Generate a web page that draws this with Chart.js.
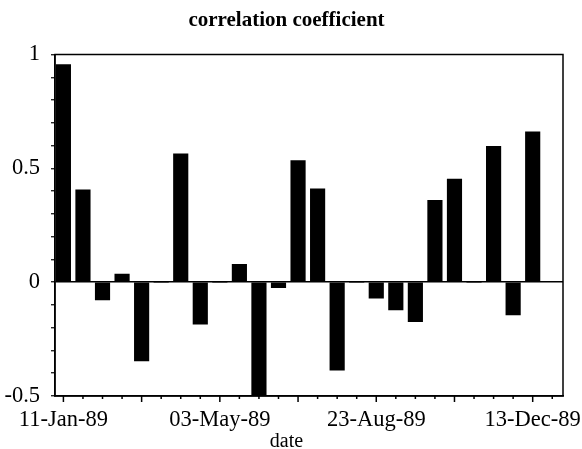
<!DOCTYPE html>
<html>
<head>
<meta charset="utf-8">
<script src="https://cdn.jsdelivr.net/npm/chart.js@4"></script>
<style>
  html, body { margin: 0; padding: 0; background: #fff; }
  #wrap { width: 582px; height: 449px; }
</style>
</head>
<body>
<div id="wrap"><canvas id="chart" width="582" height="449"></canvas></div>
<script>
// fortnightly dates, 1989
const dates = [
  "11-Jan-89", "25-Jan-89", "08-Feb-89", "22-Feb-89", "08-Mar-89", "22-Mar-89",
  "05-Apr-89", "19-Apr-89", "03-May-89", "17-May-89", "31-May-89", "14-Jun-89",
  "28-Jun-89", "12-Jul-89", "26-Jul-89", "09-Aug-89", "23-Aug-89", "06-Sep-89",
  "20-Sep-89", "04-Oct-89", "18-Oct-89", "01-Nov-89", "15-Nov-89", "29-Nov-89",
  "13-Dec-89"
];

// correlation coefficient per date
const coeffs = [
  0.956, 0.406, -0.078, 0.036, -0.346, 0, 0.564, -0.185, 0, 0.078, -0.5, -0.024,
  0.534, 0.41, -0.386, 0, -0.07, -0.122, -0.173, 0.359, 0.453, 0, 0.597, -0.144,
  0.66
];

// labelled x ticks
const tickLabels = ["11-Jan-89", "03-May-89", "23-Aug-89", "13-Dec-89"];
const yTickLabels = [1, 0.5, 0, -0.5];

const serif = "'Liberation Serif', 'DejaVu Serif', serif";

// box round the plot + small tick marks under the x axis
const frame = {
  id: "frame",
  afterDraw(chart) {
    const { ctx, chartArea: a, scales } = chart;
    ctx.save();
    ctx.strokeStyle = "#000";
    ctx.lineWidth = 1.5;
    ctx.strokeRect(a.left, a.top, a.right - a.left, a.bottom - a.top);
    ctx.beginPath();
    for (let i = 0; i <= dates.length; i++) {
      const x = scales.x.getPixelForValue(i);
      const len = i % 4 === 0 ? 6 : 3;
      ctx.moveTo(x, a.bottom);
      ctx.lineTo(x, a.bottom + len);
    }
    ctx.stroke();
    ctx.restore();
  }
};

new Chart(document.getElementById("chart"), {
  type: "bar",
  data: {
    datasets: [{
      data: coeffs.map((v, i) => ({ x: i, y: v })),
      backgroundColor: "#000",
      borderWidth: 0,
      barThickness: 14.5
    }]
  },
  options: {
    responsive: false,
    animation: false,
    layout: { padding: { left: 0, right: 9, top: 0, bottom: 0 } },
    plugins: {
      legend: { display: false },
      tooltip: { enabled: false },
      title: {
        display: true,
        text: "correlation coefficient",
        color: "#000",
        font: { family: serif, size: 21, weight: "bold", lineHeight: 1.2 },
        padding: { top: 7.5, bottom: 21.8 }
      },
      subtitle: {
        display: true,
        position: "bottom",
        text: "date",
        color: "#000",
        font: { family: serif, size: 20, weight: "normal", lineHeight: 0.7 },
        padding: { top: 0, bottom: 0 }
      }
    },
    scales: {
      x: {
        type: "linear",
        offset: false,
        min: -0.43,
        max: 25.55,
        afterBuildTicks: (scale) => {
          scale.ticks = tickLabels.map((l) => ({ value: dates.indexOf(l) }));
        },
        afterFit: (scale) => {
          scale.height = 39;
          scale.paddingLeft = 0;
          scale.paddingRight = 0;
        },
        grid: { display: false, drawTicks: false },
        border: { display: true, color: "#000", width: 1.5 },
        ticks: {
          autoSkip: false,
          maxRotation: 0,
          padding: 10.5,
          color: "#000",
          font: { family: serif, size: 22.5 },
          callback: (v) => dates[v]
        }
      },
      y: {
        min: -0.5,
        max: 1,
        afterFit: (scale) => { scale.width = 55; },
        grid: {
          drawOnChartArea: true,
          color: (c) => (c.tick && Math.abs(c.tick.value) < 1e-9 ? "#000" : "rgba(0,0,0,0)"),
          lineWidth: 1.5,
          tickColor: "#000",
          tickLength: 4,
          tickWidth: 1.2
        },
        border: { display: true, color: "#000", width: 1.5 },
        ticks: {
          stepSize: 0.1,
          autoSkip: false,
          padding: 11,
          color: "#000",
          font: { family: serif, size: 22.5 },
          callback: (v) => {
            const hit = yTickLabels.find((t) => Math.abs(t - v) < 1e-9);
            return hit === undefined ? "" : String(hit);
          }
        }
      },
      // empty strip on the right, keeps the titles centred on the page
      yRight: {
        position: "right",
        display: true,
        grid: { display: false, drawTicks: false },
        border: { display: false },
        ticks: { display: false },
        afterFit: (scale) => { scale.width = 10; }
      }
    }
  },
  plugins: [frame]
});
</script>
</body>
</html>
